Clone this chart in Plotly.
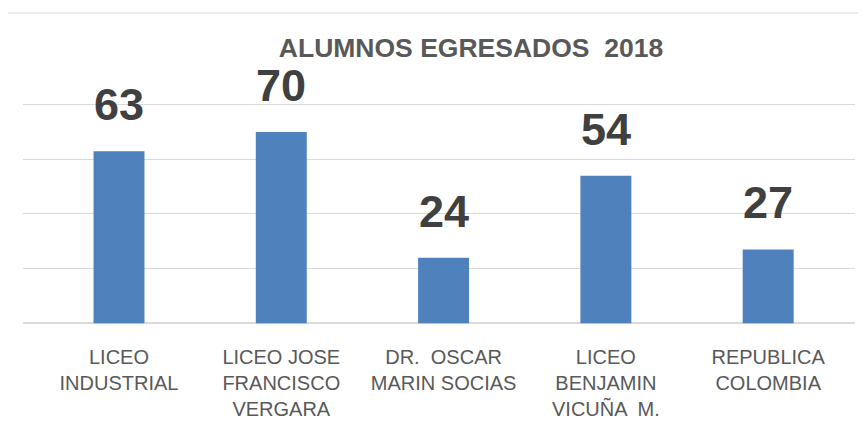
import plotly.graph_objects as go

categories = ["LICEO<br>INDUSTRIAL", "LICEO JOSE<br>FRANCISCO<br>VERGARA", "DR.  OSCAR<br>MARIN SOCIAS",
              "LICEO<br>BENJAMIN<br>VICUÑA  M.", "REPUBLICA<br>COLOMBIA"]
values = [63, 70, 24, 54, 27]
title_text = "ALUMNOS EGRESADOS  2018"

FONT = "Liberation Sans, Arial, sans-serif"
xs = list(range(len(values)))

fig = go.Figure()
fig.add_trace(go.Bar(x=xs, y=values, width=0.314, marker=dict(color="#4f81bd", line=dict(width=0)),
                     hoverinfo="skip"))

for x, v in zip(xs, values):
    fig.add_annotation(x=x, y=v, text=f"<b>{v}</b>", showarrow=False, yanchor="bottom",
                       yshift=19, font=dict(family=FONT, size=45, color="#404040"))

fig.add_shape(type="rect", xref="paper", yref="paper", x0=-0.03, x1=1.2, y0=-2, y1=1.401,
              line=dict(color="#d9d9d9", width=1), fillcolor="rgba(0,0,0,0)", layer="below")

fig.update_layout(
    width=866, height=435,
    margin=dict(l=15, r=19, t=94, b=119),
    paper_bgcolor="white", plot_bgcolor="white",
    showlegend=False,
    title=dict(text=f"<b>{title_text}</b>", x=463/866, xanchor="center", xref="container",
               y=1-40/435, yanchor="middle", yref="container",
               font=dict(family=FONT, size=26.5, color="#595959")),
    xaxis=dict(range=[-0.5915, 4.535], tickvals=xs, ticktext=categories, showgrid=False,
               zeroline=False, showline=False, ticks="", ticklabelstandoff=19,
               tickfont=dict(family=FONT, size=20, color="#595959")),
    yaxis=dict(range=[-0.3, 81], tickvals=[0, 20, 40, 60, 80], showticklabels=False, showgrid=True,
               gridcolor="#d9d9d9", gridwidth=1, zeroline=True, zerolinecolor="#d9d9d9",
               zerolinewidth=1.5, showline=False, ticks=""),
)

fig.write_html("out.html")
